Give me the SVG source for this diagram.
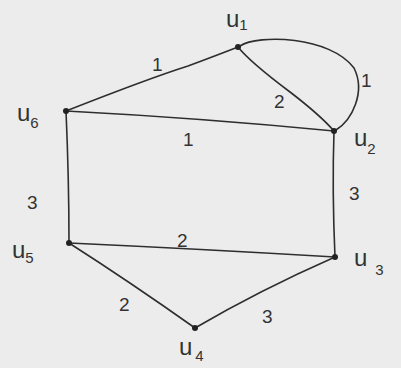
<svg xmlns="http://www.w3.org/2000/svg" width="401" height="368" viewBox="0 0 401 368">
<style>
.e{fill:none;stroke:#2e2e2e;stroke-width:1.6;stroke-linecap:round}
.n{fill:#222}
.t{font-family:"Liberation Sans",Arial,sans-serif;fill:#333;font-size:19px}
.l{font-family:"Liberation Sans",Arial,sans-serif;fill:#333;font-size:24px}
.s{font-size:15px}
</style>
<rect width="401" height="368" fill="#ececec"/>
<g id="edges">
<path class="e" d="M66,111 Q150,78 188,66 Q215,56 238,47"/>
<path class="e" d="M238,47 Q250,62 290,92 Q320,115 334,131"/>
<path class="e" d="M240,46 C258,34 330,36 354,68 C366,92 352,120 336,130"/>
<path class="e" d="M66,111 Q200,118 334,131"/>
<path class="e" d="M334,131 Q332,190 335,257"/>
<path class="e" d="M66,111 Q69,180 69,243"/>
<path class="e" d="M69,243 Q200,249 335,257"/>
<path class="e" d="M69,243 Q130,282 195,328"/>
<path class="e" d="M195,328 Q260,290 335,257"/>
</g>
<g id="u1"><circle class="n" cx="238" cy="47" r="3"/><text class="l" x="226" y="27">u<tspan class="s" dy="3">1</tspan></text></g>
<g id="u2"><circle class="n" cx="334" cy="131" r="3"/><text class="l" x="354" y="146">u<tspan class="s" dy="8">2</tspan></text></g>
<g id="u3"><circle class="n" cx="335" cy="257" r="3"/><text class="l" x="354" y="266">u<tspan class="s" dx="8" dy="9">3</tspan></text></g>
<g id="u4"><circle class="n" cx="195" cy="328" r="3"/><text class="l" x="179" y="355">u<tspan class="s" dx="3" dy="6">4</tspan></text></g>
<g id="u5"><circle class="n" cx="69" cy="243" r="3"/><text class="l" x="12" y="258">u<tspan class="s" dy="5">5</tspan></text></g>
<g id="u6"><circle class="n" cx="66" cy="111" r="3"/><text class="l" x="17" y="121">u<tspan class="s" dy="7">6</tspan></text></g>
<g id="labels">
<text class="t" x="152" y="71">1</text>
<text class="t" x="274" y="108">2</text>
<text class="t" x="361" y="87">1</text>
<text class="t" x="183" y="146">1</text>
<text class="t" x="27" y="209">3</text>
<text class="t" x="349" y="200">3</text>
<text class="t" x="177" y="247">2</text>
<text class="t" x="119" y="311">2</text>
<text class="t" x="262" y="323">3</text>
</g>
</svg>
